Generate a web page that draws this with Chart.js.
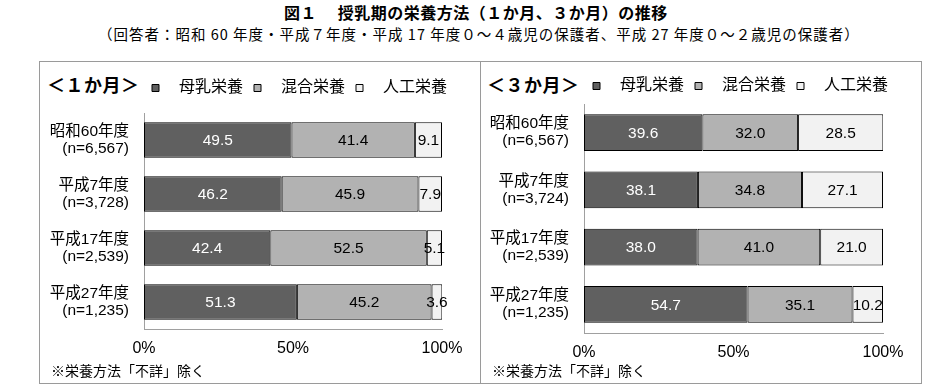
<!DOCTYPE html>
<html><head><meta charset="utf-8">
<script src="https://cdn.jsdelivr.net/npm/chart.js@4/dist/chart.umd.min.js"></script>
<style>
body{margin:0;background:#fff;width:937px;height:391px;position:relative;overflow:hidden;font-family:'Noto Sans CJK JP',sans-serif;color:#000;}
.t{position:absolute;white-space:nowrap;color:#000;}
.panel{position:absolute;top:61px;width:440px;height:321px;border:1px solid #9a9a9a;}
canvas{position:absolute;}
</style></head><body>
<div class="t" style="left:284px;top:2px;font-size:16px;font-weight:bold;letter-spacing:0.5px;line-height:20px">図１　 授乳期の栄養方法（１か月、３か月）の推移</div>
<div class="t" style="left:98px;top:24px;font-size:14.5px;letter-spacing:1px;line-height:20px">（回答者：昭和 60 年度・平成７年度・平成 17 年度０～４歳児の保護者、平成 27 年度０～２歳児の保護者）</div>
<div class="panel" style="left:39px"></div>
<div class="panel" style="left:480px"></div>
<div class="t" style="left:47px;top:72px;font-size:18px;font-weight:bold;letter-spacing:0.5px;line-height:24px">＜１か月＞</div>
<div class="t" style="left:487px;top:72px;font-size:18px;font-weight:bold;letter-spacing:0.5px;line-height:24px">＜３か月＞</div>
<canvas id="c1" width="442" height="322" style="left:39px;top:61px"></canvas>
<canvas id="c3" width="442" height="322" style="left:480px;top:61px"></canvas>
<div class="t" style="left:51px;top:361px;font-size:14px;line-height:18px">※栄養方法「不詳」除く</div>
<div class="t" style="left:492px;top:361px;font-size:14px;line-height:18px">※栄養方法「不詳」除く</div>
<script>
const categories1 = [['昭和60年度','(n=6,567)'],['平成7年度','(n=3,728)'],['平成17年度','(n=2,539)'],['平成27年度','(n=1,235)']];
const categories3 = [['昭和60年度','(n=6,567)'],['平成7年度','(n=3,724)'],['平成17年度','(n=2,539)'],['平成27年度','(n=1,235)']];
const seriesNames = ['母乳栄養','混合栄養','人工栄養'];
const breast1 = [49.5, 46.2, 42.4, 51.3];
const mixed1 = [41.4, 45.9, 52.5, 45.2];
const formula1 = [9.1, 7.9, 5.1, 3.6];
const breast3 = [39.6, 38.1, 38.0, 54.7];
const mixed3 = [32.0, 34.8, 41.0, 35.1];
const formula3 = [28.5, 27.1, 21.0, 10.2];
const xTicks = [0, 50, 100];

const FONT = '"Liberation Sans", "Noto Sans CJK JP", sans-serif';
const colors = ['#606060', '#b2b2b2', '#f2f2f2'];
const labelColors = ['#fff', '#000', '#000'];

const valueLabels = {
  id: 'valueLabels',
  afterDatasetsDraw(chart) {
    const ctx = chart.ctx;
    ctx.save();
    ctx.font = '15.5px ' + FONT;
    ctx.textAlign = 'center';
    ctx.textBaseline = 'middle';
    chart.data.datasets.forEach((ds, i) => {
      const meta = chart.getDatasetMeta(i);
      meta.data.forEach((el, j) => {
        const p = el.getProps(['x', 'base', 'y'], true);
        ctx.fillStyle = labelColors[i];
        ctx.fillText(ds.data[j].toFixed(1), (p.x + p.base) / 2, p.y + 1);
      });
    });
    ctx.restore();
  }
};

function makeChart(id, cats, series, opt) {
  const legendShift = {
    id: 'legendShift',
    afterLayout(chart) { if (chart.legend) chart.legend.left = opt.legendLeft; }
  };
  return new Chart(document.getElementById(id), {
    type: 'bar',
    data: {
      labels: cats,
      datasets: series.map((d, i) => ({
        label: '\u2002\u2005' + seriesNames[i],
        data: d,
        backgroundColor: colors[i],
        borderColor: '#000',
        borderWidth: 1,
        borderSkipped: false,
        barPercentage: opt.bp,
        categoryPercentage: 1,
        xAxisID: 'x',
        yAxisID: 'y'
      }))
    },
    options: {
      indexAxis: 'y',
      responsive: false,
      animation: false,
      devicePixelRatio: 1,
      layout: { padding: { left: 0, right: 0, top: opt.top, bottom: 0 } },
      plugins: {
        legend: {
          display: true, position: 'top', align: 'start',
          labels: { boxWidth: 7, boxHeight: 7, padding: 11, color: '#000', font: { size: 16, family: FONT } }
        },
        tooltip: { enabled: false }
      },
      scales: {
        x: {
          type: 'linear', stacked: true, min: 0, max: 100, position: 'bottom',
          afterBuildTicks(s) { s.ticks = xTicks.map(v => ({ value: v })); },
          ticks: { callback: v => v + '%', padding: 10, color: '#000', maxRotation: 0, autoSkip: false, font: { size: 16, family: FONT } },
          grid: { display: false, drawTicks: false },
          border: { display: true, color: '#a0a0a0' },
          afterFit(s) { s.height = opt.xh; }
        },
        y: {
          type: 'category', stacked: true, position: 'left',
          ticks: { padding: 15, color: '#000', font: { size: 15.5, family: FONT, lineHeight: 1.1 } },
          grid: { display: false, drawTicks: false },
          border: { display: true, color: '#a0a0a0' },
          afterFit(s) { s.width = opt.yw; }
        },
        y2: {
          type: 'category', position: 'right', labels: cats, display: true,
          grid: { display: false, drawTicks: false }, border: { display: false },
          ticks: { display: false },
          afterFit(s) { s.width = 39; }
        },
        x2: {
          type: 'linear', position: 'top', display: opt.x2h > 0,
          grid: { display: false, drawTicks: false }, border: { display: false },
          ticks: { display: false },
          afterFit(s) { s.height = opt.x2h; }
        }
      }
    },
    plugins: [valueLabels, legendShift]
  });
}

makeChart('c1', categories1, [breast1, mixed1, formula1], { bp: 0.66, top: 8, xh: 54, yw: 105, x2h: 7, legendLeft: 102 });
makeChart('c3', categories3, [breast3, mixed3, formula3], { bp: 0.645, top: 6, xh: 50, yw: 104, x2h: 0, legendLeft: 102 });
</script>
</body></html>
